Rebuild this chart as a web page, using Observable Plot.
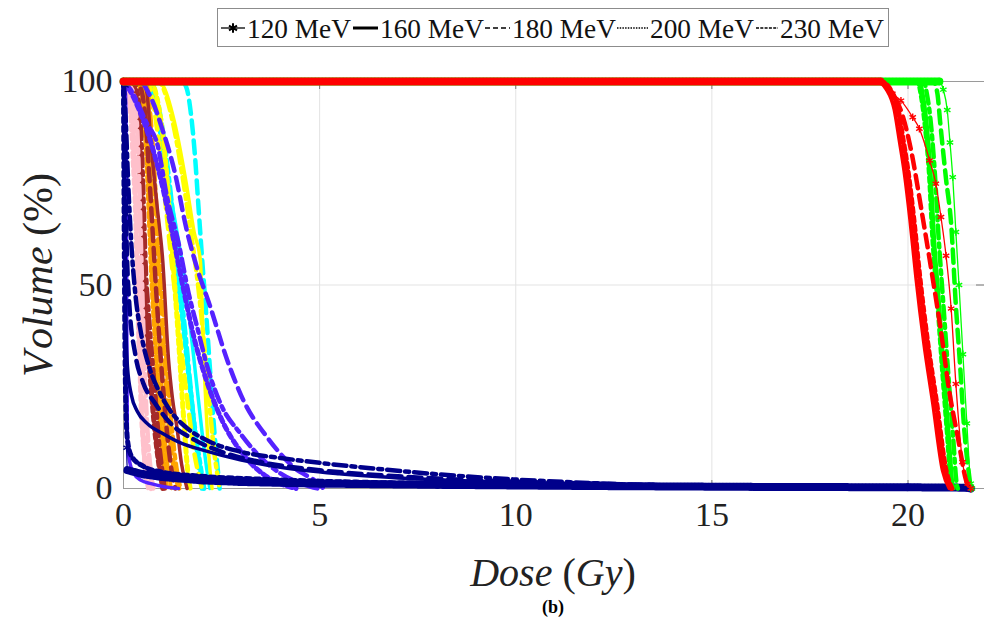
<!DOCTYPE html>
<html><head><meta charset="utf-8">
<script src="https://cdn.jsdelivr.net/npm/d3@7"></script>
<script src="https://cdn.jsdelivr.net/npm/@observablehq/plot@0.6"></script>
<style>
body{margin:0;background:#fff;width:984px;height:633px;overflow:hidden;font-family:'Liberation Serif',serif;position:relative}
#legend{position:absolute;left:217px;top:8px;width:672px;height:39px;border:1px solid #8c8c8c;box-sizing:border-box;background:#fff}
#chart{position:absolute;left:0;top:55px}
#cap{position:absolute;left:553px;transform:translateX(-50%);top:597px;font-weight:bold;font-size:18px;font-family:'Liberation Serif',serif}
svg text{font-family:'Liberation Serif',serif}
</style></head><body>
<div id="chart"></div><div id="legend"></div><div id="cap">(b)</div>
<script>
const FONT = "'Liberation Serif', serif";
const energies = ["120 MeV","160 MeV","180 MeV","200 MeV","230 MeV"];
const xTicks = [0,5,10,15,20];
const yTicks = [0,50,100];

const cyan = [
 {e:"200 MeV", d:[0,0.6,0.75,0.9,1.05,1.2,1.35,1.5,1.65,1.8,1.95,2.05], v:[100,100,97,90,80,68,55,42,29,16,6,0]},
 {e:"230 MeV", d:[0,0.7,0.85,1.0,1.15,1.3,1.45,1.6,1.72,1.84,1.95,2.0], v:[100,100,96,88,77,64,50,36,24,12,3,0]},
 {e:"180 MeV", d:[0,1.5,1.62,1.72,1.82,1.92,2.0,2.1,2.2,2.3,2.4,2.45], v:[100,100,98,92,82,68,57,44,30,16,5,0]},
 {e:"160 MeV", d:[0,0.55,0.7,0.85,1.0,1.2,1.4,1.55,1.7,1.85,2.0,2.12,2.2], v:[100,100,98,92,84,72,61,52,40,27,14,5,0]}
];
const yellow = [
 {e:"200 MeV", d:[0,0.7,0.85,1.0,1.12,1.22,1.32,1.42,1.5,1.58,1.65,1.7], v:[100,100,96,87,75,62,48,34,22,11,3,0]},
 {e:"230 MeV", d:[0,0.9,1.1,1.3,1.5,1.7,1.9,2.05,2.18,2.3,2.4,2.45], v:[100,100,96,88,77,64,50,36,22,10,3,0]},
 {e:"180 MeV", d:[0,0.6,0.75,0.9,1.05,1.2,1.35,1.5,1.65,1.8,1.95,2.0], v:[100,100,95,85,72,58,45,32,20,9,2,0]},
 {e:"160 MeV", d:[0,0.8,1.0,1.3,1.6,1.8,1.96,2.02,2.08,2.15,2.22,2.26], v:[100,100,99,90,75,63,56,40,25,12,3,0]}
];
const orange = [
 {e:"200 MeV", d:[0,0.4,0.52,0.6,0.66,0.72,0.8,0.88,0.96,1.04,1.1], v:[100,99,92,80,66,52,38,25,14,6,0]},
 {e:"230 MeV", d:[0,0.55,0.66,0.76,0.85,0.95,1.05,1.15,1.25,1.35,1.45], v:[100,100,94,82,67,52,38,24,13,5,0]},
 {e:"180 MeV", d:[0,0.5,0.62,0.72,0.8,0.88,0.97,1.06,1.15,1.25,1.35,1.42], v:[100,100,95,84,70,56,42,28,16,7,2,0]},
 {e:"160 MeV", d:[0,0.45,0.58,0.65,0.7,0.77,0.85,0.93,1.0,1.08,1.15,1.22], v:[100,100,95,85,72,58,45,32,20,10,4,0]}
];
const brown = [
 {e:"200 MeV", d:[0,0.25,0.38,0.42,0.46,0.52,0.6,0.7,0.8,0.9,1.0], v:[100,99,90,78,65,50,38,25,14,6,0]},
 {e:"230 MeV", d:[0,0.3,0.42,0.48,0.52,0.56,0.65,0.75,0.82,0.9,0.98,1.05], v:[100,99,92,80,68,56,42,30,22,12,5,0]},
 {e:"180 MeV", d:[0,0.4,0.55,0.65,0.75,0.85,0.95,1.05,1.15,1.25,1.32], v:[100,99,92,78,62,46,32,20,10,3,0]},
 {e:"160 MeV", d:[0,0.5,0.6,0.7,0.85,1.0,1.15,1.25,1.37,1.48,1.58,1.62], v:[100,100,97,85,70,56,31.4,22,14.5,6,1.5,0]}
];
const pink = [
 {e:"200 MeV", d:[0,0.1,0.2,0.25,0.3,0.33,0.36,0.38,0.42,0.45,0.5,0.55,0.6,0.7], v:[100,97,90,80,70,60,50,40,30,20,12,6,2,0]},
 {e:"230 MeV", d:[0,0.22,0.34,0.4,0.46,0.52,0.58,0.64,0.7,0.76], v:[100,98,90,75,55,35,20,10,4,0]},
 {e:"180 MeV", d:[0,0.2,0.3,0.36,0.42,0.48,0.53,0.58,0.63,0.7], v:[100,98,90,75,55,35,20,10,4,0]},
 {e:"160 MeV", d:[0,0.15,0.25,0.3,0.35,0.4,0.45,0.5,0.55,0.62], v:[100,98,90,75,55,35,20,10,4,0]}
];
const violet = [
 {e:"200 MeV", d:[0,0.15,0.4,0.7,1.0,1.3,1.55,1.8,2.1,2.5,3.0,3.5,4.0,4.4], v:[100,98,93,85,74,60,48,37,27,17,9,4,1.2,0]},
 {e:"230 MeV", d:[0,0.18,0.6,0.86,1.11,1.41,1.66,1.88,2.14,2.47,2.98,3.5,4.0,4.6,4.95], v:[100,98,89.6,84.7,71.6,60,48,39.6,29.8,20.9,13.5,7.6,3.7,1,0]},
 {e:"180 MeV", d:[0,0.4,0.7,1.0,1.3,1.6,1.88,2.2,2.65,3.06,3.67,4.34,5.0,5.1], v:[100,100,96,88,78,64,54,45,31.4,21.6,12.5,5.2,1,0]},
 {e:"160 MeV", d:[0,0.05,0.07,0.08,0.09,0.1,0.15,0.26,0.45,0.7,1.0,1.4], v:[100,97,80,50,25,12,7,3.7,2,1.2,0.5,0]}
];
const navy = [
 {e:"200 MeV", d:[0,0.02,0.05,0.1,0.2,0.5,1,2,3.5,5,8,11,15,19,21.5], v:[100,60,25,12,8,5.5,4,3,2.3,1.8,1.2,0.8,0.4,0.2,0]},
 {e:"230 MeV", d:[0,0.05,0.12,0.2,0.3,0.45,0.65,0.9,1.2,1.6,2.2,3,4,5,6.5,8,10,12,14,16,19,21], v:[100,92,75,60,48,38,30,24,19,15,11.5,9,7.5,6.3,4.8,3.5,2.2,1.3,0.6,0.3,0.1,0]},
 {e:"180 MeV", d:[0,0.03,0.08,0.15,0.3,0.5,0.8,1.2,1.8,2.5,3.5,5,7,9,12,15,18,21], v:[100,85,60,45,33,26,21,16,12,9,6.5,4.5,3,2,1.2,0.6,0.3,0]},
 {e:"160 MeV", d:[0,0.02,0.05,0.1,0.2,0.35,0.6,1,1.5,2,3,4,5.5,7,9,12,15,18,21], v:[100,70,45,30,23,19,16,13.5,11,9.5,7,5.2,3.6,2.6,1.8,1,0.5,0.2,0]},
 {e:"120 MeV", d:[0,0.05,0.08,0.1,0.5,1,2,3,5,8,12,16,20,21.5,21.6], v:[100,99,10,4.5,3.5,2.8,2,1.6,1.2,0.9,0.6,0.4,0.3,0.2,0]}
];
const green = [
 {e:"230 MeV", d:[0,20.4,20.48,20.6,20.68,20.78,20.9,21.02,21.15,21.24,21.27], v:[100,100,97,88,78,61.7,45.4,29,12.6,1.2,0]},
 {e:"200 MeV", d:[0,20.25,20.33,20.45,20.54,20.63,20.76,20.88,21.01,21.1,21.13], v:[100,100,97,88,78,61.7,45.4,29,12.6,1.2,0]},
 {e:"160 MeV", d:[0,20.3,20.38,20.5,20.58,20.67,20.8,20.92,21.05,21.14,21.17], v:[100,100,97,88,78,61.7,45.4,29,12.6,1.2,0]},
 {e:"180 MeV", d:[0,20.65,20.75,20.82,20.97,21.1,21.22,21.33,21.43,21.56,21.6], v:[100,100,97,90,76,65,45,30,15,3,0]},
 {e:"120 MeV", d:[0,20.8,20.9,21.0,21.07,21.14,21.22,21.3,21.4,21.5,21.6,21.63], v:[100,100,98,93,85,76.5,63,50,33,16,1.2,0]}
];
const red = [
 {e:"200 MeV", d:[0,19.3,19.55,19.75,19.87,20.0,20.15,20.3,20.5,20.73,20.97,21.12], v:[100,100,98,93,86,78,66,52,36,21,4.4,0]},
 {e:"230 MeV", d:[0,19.25,19.5,19.7,19.83,19.96,20.11,20.26,20.46,20.69,20.93,21.1], v:[100,100,98,93,86,78,66,52,36,21,4.4,0]},
 {e:"180 MeV", d:[0,19.3,19.6,19.85,20.08,20.35,20.59,20.85,21.05,21.27,21.48,21.55], v:[100,100,97,92,83,68,54,38,24,12.6,2,0]},
 {e:"160 MeV", d:[0,19.2,19.45,19.65,19.77,19.9,20.05,20.2,20.4,20.63,20.88,21.05], v:[100,100,98,93,86,78,66,52,36,21,4.4,0]},
 {e:"120 MeV", d:[0,19.3,19.6,19.82,20.12,20.29,20.55,20.71,20.84,20.97,21.1,21.22,21.39,21.52,21.6], v:[100,100,97,95.3,91.2,88.4,80.6,74.9,66.7,57.2,44.2,25.7,6.5,1.2,0]}
];

const organs = [
 ["#00ffff", cyan], ["#ffff00", yellow], ["#ffa500", orange], ["#a52a2a", brown],
 ["#ffc0cb", pink], ["#5522ff", violet], ["#00008b", navy], ["#00ff00", green], ["#ff0000", red]
];
const styleOf = {
 "120 MeV": {strokeWidth: 1.3},
 "160 MeV": {strokeWidth: 3.5},
 "180 MeV": {strokeWidth: 4.5, strokeDasharray: "13,7"},
 "200 MeV": {strokeWidth: 5, strokeDasharray: "5,4"},
 "230 MeV": {strokeWidth: 4.5, strokeDasharray: "13,5,4,5"}
};

const W = 984, H = 543, mL = 123, mR = 0, mT = 26, mB = 110;
const plotH = H - mT - mB, plotW = W - mL - mR;

const marks = [
 Plot.gridX([5,10,15,20], {stroke: "#e3e3e3", strokeOpacity: 1}),
 Plot.gridY([50], {stroke: "#e3e3e3", strokeOpacity: 1}),
 Plot.frame({stroke: "#9a9a9a"}),
 Plot.tickX([5,10,15,20], {x: d => d, stroke: "#777", insetBottom: plotH - 8}),
 Plot.tickX([5,10,15,20], {x: d => d, stroke: "#777", insetTop: plotH - 8}),
 Plot.tickY([50], {y: d => d, stroke: "#777", insetLeft: plotW - 8})
];

for (const [color, curves] of organs) {
 for (const c of curves) {
  const rows = c.d.map((d, i) => ({d, v: c.v[i]}));
  marks.push(Plot.line(rows, {x: "d", y: "v", stroke: color, curve: "monotone-x", strokeLinejoin: "round", ...styleOf[c.e]}));
  if (c.e === "120 MeV") {
   const seg = [];
   for (let i = 0; i < c.d.length - 1; i++) {
    const s = Math.abs((c.v[i+1] - c.v[i]) / (c.d[i+1] - c.d[i]));
    if (s < 5) seg.push({d: c.d[i], v: c.v[i], k: i}, {d: c.d[i+1], v: c.v[i+1], k: i});
   }
   marks.push(Plot.line(seg, {x: "d", y: "v", z: "k", stroke: color, strokeWidth: 8, strokeDasharray: "2,1.5"}));
   marks.push(Plot.dot(rows, {x: "d", y: "v", symbol: "asterisk", r: 3.5, stroke: color, strokeWidth: 1.4}));
  }
 }
}

marks.push(Plot.axisX({ticks: xTicks, tickSize: 0, tickPadding: 13, fontSize: 34, fontFamily: FONT, label: null, fill: "#222"}));
marks.push(Plot.axisY({ticks: yTicks, tickSize: 0, tickPadding: 11, fontSize: 34, fontFamily: FONT, label: null, fill: "#222"}));

const plot = Plot.plot({
 width: W, height: H, marginLeft: mL, marginRight: mR, marginTop: mT, marginBottom: mB,
 style: {fontFamily: FONT, background: "#fff", overflow: "visible"},
 x: {domain: [0, 21.95]},
 y: {domain: [0, 100]},
 marks
});
document.getElementById("chart").appendChild(plot);

const svg = d3.select(plot);
const xl = svg.append("text").attr("x", 553).attr("y", 531).attr("text-anchor", "middle")
 .attr("font-family", FONT).style("font-family", FONT).style("font-size", "40px").attr("fill", "#222");
xl.append("tspan").style("font-style", "italic").text("Dose ");
xl.append("tspan").text("(");
xl.append("tspan").style("font-style", "italic").text("Gy");
xl.append("tspan").text(")");
const yl = svg.append("text").attr("transform", "translate(52,220) rotate(-90)").attr("text-anchor", "middle")
 .attr("font-family", FONT).style("font-family", FONT).style("font-size", "42px").attr("fill", "#222");
yl.append("tspan").style("font-style", "italic").text("V");
yl.append("tspan").style("font-style", "italic").attr("dx", 7).text("olume ");
yl.append("tspan").text("(%)");

// legend
const lg = d3.select("#legend").append("svg").attr("width", 670).attr("height", 37);
const items = [
 {e: energies[0], x0: 3, x1: 27, tx: 29, w: 1.3, dash: null, mark: true},
 {e: energies[1], x0: 135, x1: 160, tx: 162, w: 3, dash: null},
 {e: energies[2], x0: 267, x1: 292, tx: 294, w: 1.5, dash: "5,3"},
 {e: energies[3], x0: 399, x1: 430, tx: 432, w: 1.5, dash: "1.5,1.2"},
 {e: energies[4], x0: 538, x1: 560, tx: 562, w: 1.3, dash: "3,1.3"}
];
for (const it of items) {
 const ln = lg.append("line").attr("x1", it.x0).attr("x2", it.x1).attr("y1", 19).attr("y2", 19)
  .attr("stroke", "#000").attr("stroke-width", it.w);
 if (it.dash) ln.attr("stroke-dasharray", it.dash);
 if (it.mark) lg.append("path").attr("d", d3.symbol(d3.symbolAsterisk, 60)()).attr("transform", "translate(15,19)")
  .attr("stroke", "#000").attr("stroke-width", 2).attr("fill", "none");
 const t = lg.append("text").attr("x", it.tx).attr("y", 29).attr("font-family", FONT).style("font-family", FONT)
  .style("font-size", "28px").attr("fill", "#111").text(it.e);
 const len = t.node().getComputedTextLength();
 if (len > 104) t.style("font-size", (28 * 104 / len).toFixed(1) + "px");
}
</script>
</body></html>
